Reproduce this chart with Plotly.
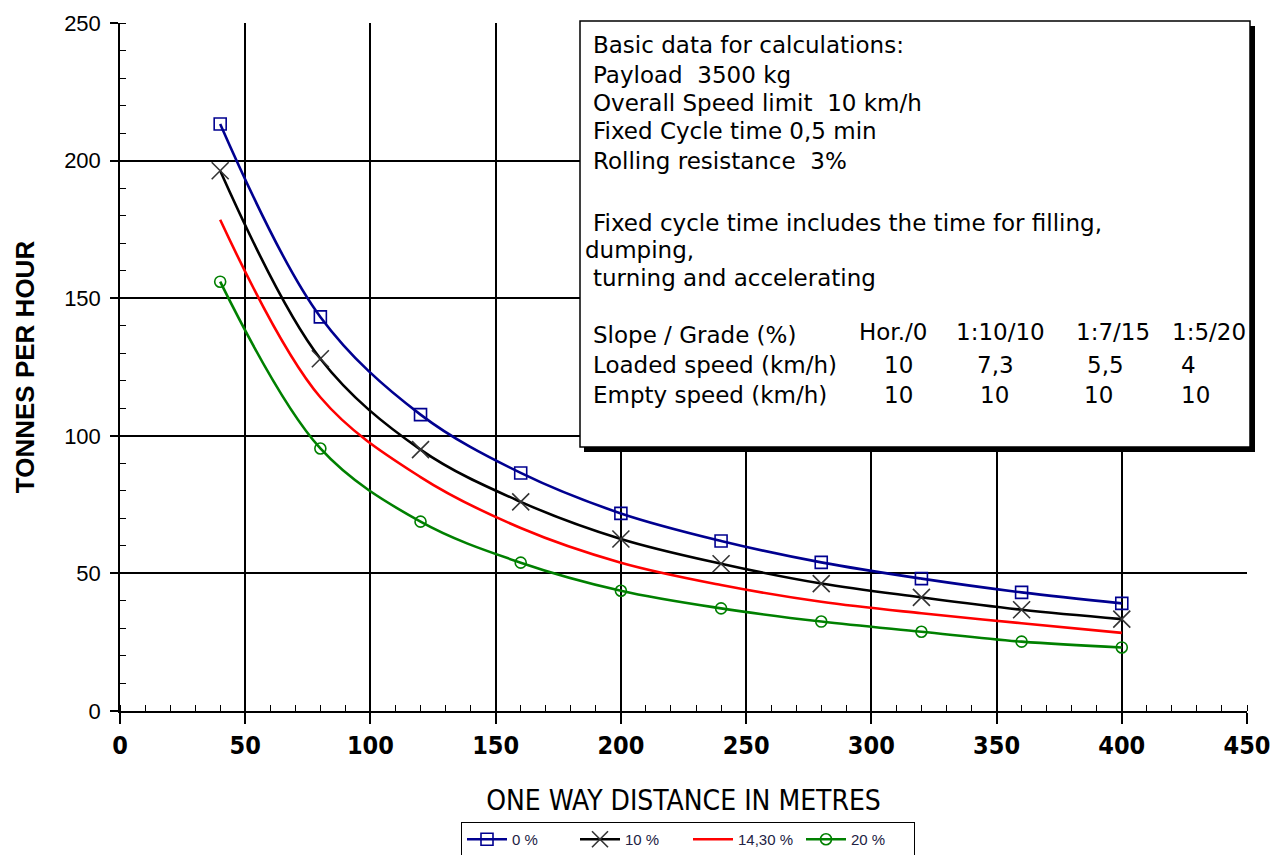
import plotly.graph_objects as go

# ---------------- data ----------------
distance = [40, 80, 120, 160, 200, 240, 280, 320, 360, 400]
tph_0 = [213.3, 143.2, 107.7, 86.5, 71.8, 61.8, 54.0, 48.1, 43.1, 39.1]
tph_10 = [196.3, 128.0, 95.0, 76.0, 62.5, 53.5, 46.3, 41.3, 36.8, 33.4]
tph_1430 = [178.5, 114.0, 85.0, 66.5, 53.9, 45.8, 39.7, 35.5, 31.9, 28.4]
tph_20 = [156.0, 95.4, 68.8, 53.9, 43.7, 37.3, 32.5, 28.8, 25.2, 23.1]
series_names = ["0 %", "10 %", "14,30 %", "20 %"]

info_lines = [
    "Basic data for calculations:",
    "Payload  3500 kg",
    "Overall Speed limit  10 km/h",
    "Fixed Cycle time 0,5 min",
    "Rolling resistance  3%",
    "Fixed cycle time includes the time for filling,",
    "dumping,",
    "turning and accelerating",
]
table_rows = ["Slope / Grade (%)", "Loaded speed (km/h)", "Empty speed (km/h)"]
table_head = ["Hor./0", "1:10/10", "1:7/15", "1:5/20"]
loaded_speed = ["10", "7,3", "5,5", "4"]
empty_speed = ["10", "10", "10", "10"]

# ---------------- layout geometry (screen pixels) ----------------
W, H = 1280, 855
OFF = 8  # page body margin of the browser
L, R, T, B = 120, 1247, 23, 711  # plot area on screen


def px(x):
    return (x - L) / (R - L)


def py(y):
    return (B - y) / (B - T)


NARROW = "DejaVu Sans Condensed, Liberation Sans Narrow, Arial Narrow, sans-serif"
BOXFONT = "DejaVu Sans, Verdana, sans-serif"
ARIAL = "Liberation Sans, Arial, sans-serif"

fig = go.Figure()

fig.add_trace(go.Scatter(
    x=distance, y=tph_0, name=series_names[0], mode="lines+markers",
    line=dict(color="#000090", width=2.6, shape="spline"),
    marker=dict(symbol="square-open", size=12, color="#000090", line=dict(width=1.6, color="#000090")),
))
fig.add_trace(go.Scatter(
    x=distance, y=tph_10, name=series_names[1], mode="lines+markers",
    line=dict(color="#000000", width=2.6, shape="spline"),
    marker=dict(symbol="x-thin-open", size=17, color="#333333", line=dict(width=1.6, color="#333333")),
))
fig.add_trace(go.Scatter(
    x=distance, y=tph_1430, name=series_names[2], mode="lines",
    line=dict(color="#FF0000", width=2.6, shape="spline"),
))
fig.add_trace(go.Scatter(
    x=distance, y=tph_20, name=series_names[3], mode="lines+markers",
    line=dict(color="#008000", width=2.6, shape="spline"),
    marker=dict(symbol="circle-open", size=11, color="#008000", line=dict(width=1.6, color="#008000")),
))

shapes = []
# shadow
shapes.append(dict(type="rect", xref="paper", yref="paper",
                   x0=px(584), x1=px(1255), y0=py(452), y1=py(26),
                   fillcolor="black", line=dict(width=0), layer="above"))
# box
shapes.append(dict(type="rect", xref="paper", yref="paper",
                   x0=px(580), x1=px(1250), y0=py(447), y1=py(21),
                   fillcolor="white", line=dict(color="black", width=1.5), layer="above"))

annotations = []
TXT = 23


def add_text(txt, xx, yy, anchor="left"):
    annotations.append(dict(text=txt, xref="paper", yref="paper", x=px(xx), y=py(yy),
                            xanchor=anchor, yanchor="middle", showarrow=False,
                            borderpad=0,
                            font=dict(family=BOXFONT, size=TXT, color="black")))


line_pos = [(592, 45), (592, 75), (592, 103), (592, 131), (592, 161),
            (592, 223), (584, 250), (592, 278)]
for (xx, yy), txt in zip(line_pos, info_lines):
    add_text(txt, xx, yy)
row_y = [335, 365, 395]
for yy, txt in zip(row_y, table_rows):
    add_text(txt, 592, yy)
col_x = [893, 1000, 1113, 1209]
for xx, txt in zip(col_x, table_head):
    add_text(txt, xx, 332, "center")
load_x = [898, 995, 1105, 1188]
for xx, txt in zip(load_x, loaded_speed):
    add_text(txt, xx, 365, "center")
empty_x = [898, 994, 1098, 1195]
for xx, txt in zip(empty_x, empty_speed):
    add_text(txt, xx, 395, "center")

fig.update_layout(
    width=W, height=H,
    margin=dict(l=L - OFF, r=W - R + OFF, t=T - OFF, b=H - B + OFF, autoexpand=False),
    paper_bgcolor="white", plot_bgcolor="white",
    showlegend=True,
    legend=dict(orientation="h", x=px(688), xanchor="center", y=py(822), yanchor="top",
                bordercolor="black", borderwidth=1, bgcolor="white",
                font=dict(family=ARIAL, size=15, color="#222244"),
                entrywidth=58, entrywidthmode="pixels", itemwidth=40, tracegroupgap=0),
    shapes=shapes,
    annotations=annotations,
)

fig.update_xaxes(
    range=[0, 450], dtick=50, tick0=0,
    showgrid=True, gridcolor="black", gridwidth=1.5,
    showline=True, linecolor="black", linewidth=1.5,
    ticks="outside", ticklen=11, tickwidth=1.5, tickcolor="black",
    tickfont=dict(family=NARROW, size=25, color="black", weight="bold"),
    zeroline=False,
    minor=dict(dtick=10, ticks="inside", ticklen=6, tickwidth=1.2, tickcolor="black", showgrid=False),
    title=dict(text="ONE WAY DISTANCE IN METRES", font=dict(family=NARROW, size=28, color="black"), standoff=32),
)
fig.update_yaxes(
    range=[0, 250], dtick=50, tick0=0,
    showgrid=True, gridcolor="black", gridwidth=1.5,
    showline=True, linecolor="black", linewidth=1.5,
    ticks="outside", ticklen=8, tickwidth=1.5, tickcolor="black",
    tickfont=dict(family=ARIAL, size=22, color="black"),
    ticklabelstandoff=5,
    zeroline=False,
    minor=dict(dtick=10, ticks="inside", ticklen=6, tickwidth=1.2, tickcolor="black", showgrid=False),
    title=dict(text="TONNES PER HOUR", font=dict(family=ARIAL, size=26, color="black", weight="bold"), standoff=22),
)

fig.write_html("out.html")
